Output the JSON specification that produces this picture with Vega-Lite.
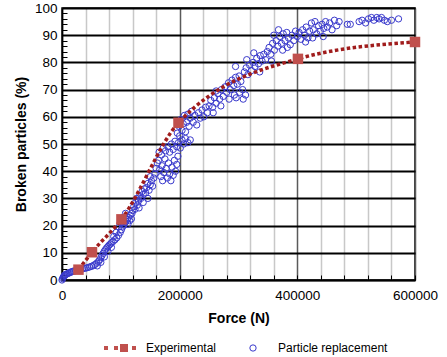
{
  "$schema": "https://vega.github.io/schema/vega-lite/v6.json",
  "width": 353,
  "height": 272,
  "autosize": "none",
  "padding": {"left": 62, "top": 8, "right": 32, "bottom": 77},
  "config": {
    "font": "Liberation Sans",
    "view": {"stroke": "#000", "strokeWidth": 1.5}
  },
  "datasets": {
    "exp": [
      {"force": 28000, "broken": 3.8, "series": "Experimental"},
      {"force": 51000, "broken": 10.2, "series": "Experimental"},
      {"force": 101000, "broken": 22.3, "series": "Experimental"},
      {"force": 198000, "broken": 57.8, "series": "Experimental"},
      {"force": 401000, "broken": 81.3, "series": "Experimental"},
      {"force": 600000, "broken": 87.5, "series": "Experimental"}
    ],
    "sim": [
      {"force":0,"broken":0,"series":"Particle replacement"},
      {"force":1000,"broken":0.5,"series":"Particle replacement"},
      {"force":2000,"broken":1.0,"series":"Particle replacement"},
      {"force":3000,"broken":1.3,"series":"Particle replacement"},
      {"force":4000,"broken":1.6,"series":"Particle replacement"},
      {"force":5000,"broken":1.8,"series":"Particle replacement"},
      {"force":6000,"broken":2.0,"series":"Particle replacement"},
      {"force":8000,"broken":2.2,"series":"Particle replacement"},
      {"force":10000,"broken":2.4,"series":"Particle replacement"},
      {"force":12000,"broken":2.6,"series":"Particle replacement"},
      {"force":14000,"broken":2.8,"series":"Particle replacement"},
      {"force":16000,"broken":3.0,"series":"Particle replacement"},
      {"force":18000,"broken":3.1,"series":"Particle replacement"},
      {"force":20000,"broken":3.3,"series":"Particle replacement"},
      {"force":23000,"broken":3.4,"series":"Particle replacement"},
      {"force":26000,"broken":3.6,"series":"Particle replacement"},
      {"force":29000,"broken":3.8,"series":"Particle replacement"},
      {"force":32000,"broken":4.0,"series":"Particle replacement"},
      {"force":35000,"broken":4.1,"series":"Particle replacement"},
      {"force":38000,"broken":4.3,"series":"Particle replacement"},
      {"force":41000,"broken":4.4,"series":"Particle replacement"},
      {"force":44000,"broken":4.6,"series":"Particle replacement"},
      {"force":47000,"broken":4.8,"series":"Particle replacement"},
      {"force":50000,"broken":5.0,"series":"Particle replacement"},
      {"force":53000,"broken":5.3,"series":"Particle replacement"},
      {"force":56000,"broken":5.7,"series":"Particle replacement"},
      {"force":59000,"broken":6.2,"series":"Particle replacement"},
      {"force":62000,"broken":6.8,"series":"Particle replacement"},
      {"force":64000,"broken":7.4,"series":"Particle replacement"},
      {"force":66000,"broken":8.2,"series":"Particle replacement"},
      {"force":68000,"broken":9.0,"series":"Particle replacement"},
      {"force":70000,"broken":9.8,"series":"Particle replacement"},
      {"force":72000,"broken":10.6,"series":"Particle replacement"},
      {"force":74000,"broken":11.2,"series":"Particle replacement"},
      {"force":76000,"broken":11.8,"series":"Particle replacement"},
      {"force":78000,"broken":12.3,"series":"Particle replacement"},
      {"force":80000,"broken":12.8,"series":"Particle replacement"},
      {"force":82000,"broken":13.2,"series":"Particle replacement"},
      {"force":84000,"broken":13.7,"series":"Particle replacement"},
      {"force":87000,"broken":14.2,"series":"Particle replacement"},
      {"force":90000,"broken":14.8,"series":"Particle replacement"},
      {"force":93000,"broken":15.5,"series":"Particle replacement"},
      {"force":96000,"broken":16.4,"series":"Particle replacement"},
      {"force":99000,"broken":17.5,"series":"Particle replacement"},
      {"force":101000,"broken":18.5,"series":"Particle replacement"},
      {"force":103000,"broken":19.5,"series":"Particle replacement"},
      {"force":105000,"broken":20.2,"series":"Particle replacement"},
      {"force":107000,"broken":21.0,"series":"Particle replacement"},
      {"force":109000,"broken":21.6,"series":"Particle replacement"},
      {"force":111000,"broken":22.3,"series":"Particle replacement"},
      {"force":113000,"broken":23.0,"series":"Particle replacement"},
      {"force":116000,"broken":23.8,"series":"Particle replacement"},
      {"force":119000,"broken":24.5,"series":"Particle replacement"},
      {"force":60000,"broken":5.2,"series":"Particle replacement"},
      {"force":66000,"broken":6.5,"series":"Particle replacement"},
      {"force":72000,"broken":8.5,"series":"Particle replacement"},
      {"force":78000,"broken":10.5,"series":"Particle replacement"},
      {"force":84000,"broken":12.0,"series":"Particle replacement"},
      {"force":88000,"broken":16.0,"series":"Particle replacement"},
      {"force":92000,"broken":17.5,"series":"Particle replacement"},
      {"force":97000,"broken":19.5,"series":"Particle replacement"},
      {"force":100000,"broken":21.0,"series":"Particle replacement"},
      {"force":104000,"broken":23.0,"series":"Particle replacement"},
      {"force":108000,"broken":24.5,"series":"Particle replacement"},
      {"force":112000,"broken":20.5,"series":"Particle replacement"},
      {"force":115000,"broken":21.8,"series":"Particle replacement"},
      {"force":118000,"broken":22.5,"series":"Particle replacement"},
      {"force":120000,"broken":25.5,"series":"Particle replacement"},
      {"force":122000,"broken":27.0,"series":"Particle replacement"},
      {"force":124000,"broken":26.0,"series":"Particle replacement"},
      {"force":125000,"broken":28.5,"series":"Particle replacement"},
      {"force":127000,"broken":30.0,"series":"Particle replacement"},
      {"force":128000,"broken":27.5,"series":"Particle replacement"},
      {"force":130000,"broken":29.0,"series":"Particle replacement"},
      {"force":132000,"broken":31.0,"series":"Particle replacement"},
      {"force":134000,"broken":30.0,"series":"Particle replacement"},
      {"force":136000,"broken":32.5,"series":"Particle replacement"},
      {"force":138000,"broken":31.5,"series":"Particle replacement"},
      {"force":140000,"broken":33.5,"series":"Particle replacement"},
      {"force":142000,"broken":32.0,"series":"Particle replacement"},
      {"force":144000,"broken":34.0,"series":"Particle replacement"},
      {"force":146000,"broken":35.5,"series":"Particle replacement"},
      {"force":148000,"broken":33.0,"series":"Particle replacement"},
      {"force":150000,"broken":35.0,"series":"Particle replacement"},
      {"force":152000,"broken":36.5,"series":"Particle replacement"},
      {"force":154000,"broken":34.5,"series":"Particle replacement"},
      {"force":156000,"broken":37.5,"series":"Particle replacement"},
      {"force":158000,"broken":39.0,"series":"Particle replacement"},
      {"force":160000,"broken":41.0,"series":"Particle replacement"},
      {"force":162000,"broken":43.0,"series":"Particle replacement"},
      {"force":150000,"broken":38.0,"series":"Particle replacement"},
      {"force":146000,"broken":30.0,"series":"Particle replacement"},
      {"force":138000,"broken":28.5,"series":"Particle replacement"},
      {"force":131000,"broken":26.5,"series":"Particle replacement"},
      {"force":164000,"broken":44.0,"series":"Particle replacement"},
      {"force":166000,"broken":40.5,"series":"Particle replacement"},
      {"force":168000,"broken":38.0,"series":"Particle replacement"},
      {"force":170000,"broken":42.0,"series":"Particle replacement"},
      {"force":171000,"broken":36.5,"series":"Particle replacement"},
      {"force":173000,"broken":39.5,"series":"Particle replacement"},
      {"force":175000,"broken":44.5,"series":"Particle replacement"},
      {"force":177000,"broken":41.0,"series":"Particle replacement"},
      {"force":179000,"broken":37.5,"series":"Particle replacement"},
      {"force":181000,"broken":43.0,"series":"Particle replacement"},
      {"force":183000,"broken":39.0,"series":"Particle replacement"},
      {"force":185000,"broken":36.5,"series":"Particle replacement"},
      {"force":187000,"broken":41.5,"series":"Particle replacement"},
      {"force":189000,"broken":38.5,"series":"Particle replacement"},
      {"force":191000,"broken":44.0,"series":"Particle replacement"},
      {"force":193000,"broken":40.0,"series":"Particle replacement"},
      {"force":195000,"broken":42.5,"series":"Particle replacement"},
      {"force":197000,"broken":45.5,"series":"Particle replacement"},
      {"force":165000,"broken":47.0,"series":"Particle replacement"},
      {"force":169000,"broken":46.0,"series":"Particle replacement"},
      {"force":172000,"broken":48.5,"series":"Particle replacement"},
      {"force":176000,"broken":47.5,"series":"Particle replacement"},
      {"force":180000,"broken":49.0,"series":"Particle replacement"},
      {"force":183000,"broken":47.0,"series":"Particle replacement"},
      {"force":186000,"broken":50.0,"series":"Particle replacement"},
      {"force":189000,"broken":48.0,"series":"Particle replacement"},
      {"force":192000,"broken":51.0,"series":"Particle replacement"},
      {"force":195000,"broken":49.0,"series":"Particle replacement"},
      {"force":198000,"broken":50.5,"series":"Particle replacement"},
      {"force":201000,"broken":48.5,"series":"Particle replacement"},
      {"force":204000,"broken":51.5,"series":"Particle replacement"},
      {"force":207000,"broken":50.0,"series":"Particle replacement"},
      {"force":210000,"broken":52.0,"series":"Particle replacement"},
      {"force":214000,"broken":50.5,"series":"Particle replacement"},
      {"force":218000,"broken":51.5,"series":"Particle replacement"},
      {"force":196000,"broken":54.0,"series":"Particle replacement"},
      {"force":199000,"broken":56.5,"series":"Particle replacement"},
      {"force":200000,"broken":53.0,"series":"Particle replacement"},
      {"force":202000,"broken":59.0,"series":"Particle replacement"},
      {"force":204000,"broken":55.0,"series":"Particle replacement"},
      {"force":206000,"broken":57.5,"series":"Particle replacement"},
      {"force":208000,"broken":60.5,"series":"Particle replacement"},
      {"force":210000,"broken":54.5,"series":"Particle replacement"},
      {"force":212000,"broken":58.0,"series":"Particle replacement"},
      {"force":214000,"broken":61.0,"series":"Particle replacement"},
      {"force":216000,"broken":56.5,"series":"Particle replacement"},
      {"force":218000,"broken":59.5,"series":"Particle replacement"},
      {"force":220000,"broken":62.0,"series":"Particle replacement"},
      {"force":223000,"broken":58.0,"series":"Particle replacement"},
      {"force":226000,"broken":60.5,"series":"Particle replacement"},
      {"force":229000,"broken":57.0,"series":"Particle replacement"},
      {"force":232000,"broken":61.5,"series":"Particle replacement"},
      {"force":235000,"broken":59.5,"series":"Particle replacement"},
      {"force":238000,"broken":62.5,"series":"Particle replacement"},
      {"force":241000,"broken":60.0,"series":"Particle replacement"},
      {"force":244000,"broken":63.5,"series":"Particle replacement"},
      {"force":247000,"broken":61.5,"series":"Particle replacement"},
      {"force":250000,"broken":64.0,"series":"Particle replacement"},
      {"force":253000,"broken":66.0,"series":"Particle replacement"},
      {"force":256000,"broken":63.5,"series":"Particle replacement"},
      {"force":259000,"broken":67.0,"series":"Particle replacement"},
      {"force":262000,"broken":65.0,"series":"Particle replacement"},
      {"force":265000,"broken":68.5,"series":"Particle replacement"},
      {"force":268000,"broken":66.5,"series":"Particle replacement"},
      {"force":271000,"broken":70.0,"series":"Particle replacement"},
      {"force":274000,"broken":67.5,"series":"Particle replacement"},
      {"force":277000,"broken":71.0,"series":"Particle replacement"},
      {"force":280000,"broken":69.0,"series":"Particle replacement"},
      {"force":283000,"broken":72.5,"series":"Particle replacement"},
      {"force":286000,"broken":70.0,"series":"Particle replacement"},
      {"force":289000,"broken":73.5,"series":"Particle replacement"},
      {"force":292000,"broken":71.5,"series":"Particle replacement"},
      {"force":295000,"broken":74.5,"series":"Particle replacement"},
      {"force":298000,"broken":72.0,"series":"Particle replacement"},
      {"force":301000,"broken":75.0,"series":"Particle replacement"},
      {"force":304000,"broken":73.0,"series":"Particle replacement"},
      {"force":307000,"broken":70.0,"series":"Particle replacement"},
      {"force":293000,"broken":68.0,"series":"Particle replacement"},
      {"force":284000,"broken":66.5,"series":"Particle replacement"},
      {"force":262000,"broken":69.5,"series":"Particle replacement"},
      {"force":257000,"broken":61.5,"series":"Particle replacement"},
      {"force":270000,"broken":64.0,"series":"Particle replacement"},
      {"force":296000,"broken":67.0,"series":"Particle replacement"},
      {"force":302000,"broken":69.0,"series":"Particle replacement"},
      {"force":308000,"broken":66.5,"series":"Particle replacement"},
      {"force":312000,"broken":68.0,"series":"Particle replacement"},
      {"force":310000,"broken":76.5,"series":"Particle replacement"},
      {"force":313000,"broken":78.0,"series":"Particle replacement"},
      {"force":316000,"broken":75.5,"series":"Particle replacement"},
      {"force":319000,"broken":79.0,"series":"Particle replacement"},
      {"force":322000,"broken":77.0,"series":"Particle replacement"},
      {"force":325000,"broken":80.0,"series":"Particle replacement"},
      {"force":328000,"broken":78.5,"series":"Particle replacement"},
      {"force":331000,"broken":81.5,"series":"Particle replacement"},
      {"force":334000,"broken":79.5,"series":"Particle replacement"},
      {"force":337000,"broken":82.5,"series":"Particle replacement"},
      {"force":340000,"broken":80.5,"series":"Particle replacement"},
      {"force":343000,"broken":83.0,"series":"Particle replacement"},
      {"force":346000,"broken":81.0,"series":"Particle replacement"},
      {"force":349000,"broken":84.0,"series":"Particle replacement"},
      {"force":314000,"broken":81.0,"series":"Particle replacement"},
      {"force":326000,"broken":83.5,"series":"Particle replacement"},
      {"force":336000,"broken":76.5,"series":"Particle replacement"},
      {"force":295000,"broken":78.5,"series":"Particle replacement"},
      {"force":352000,"broken":85.5,"series":"Particle replacement"},
      {"force":355000,"broken":83.0,"series":"Particle replacement"},
      {"force":358000,"broken":87.0,"series":"Particle replacement"},
      {"force":361000,"broken":84.5,"series":"Particle replacement"},
      {"force":364000,"broken":88.0,"series":"Particle replacement"},
      {"force":367000,"broken":86.0,"series":"Particle replacement"},
      {"force":370000,"broken":89.5,"series":"Particle replacement"},
      {"force":373000,"broken":87.0,"series":"Particle replacement"},
      {"force":376000,"broken":90.5,"series":"Particle replacement"},
      {"force":379000,"broken":88.0,"series":"Particle replacement"},
      {"force":382000,"broken":91.0,"series":"Particle replacement"},
      {"force":385000,"broken":89.0,"series":"Particle replacement"},
      {"force":388000,"broken":86.5,"series":"Particle replacement"},
      {"force":391000,"broken":90.0,"series":"Particle replacement"},
      {"force":394000,"broken":88.0,"series":"Particle replacement"},
      {"force":397000,"broken":91.5,"series":"Particle replacement"},
      {"force":400000,"broken":89.5,"series":"Particle replacement"},
      {"force":360000,"broken":90.0,"series":"Particle replacement"},
      {"force":368000,"broken":92.0,"series":"Particle replacement"},
      {"force":375000,"broken":84.5,"series":"Particle replacement"},
      {"force":383000,"broken":85.5,"series":"Particle replacement"},
      {"force":356000,"broken":80.5,"series":"Particle replacement"},
      {"force":403000,"broken":91.0,"series":"Particle replacement"},
      {"force":406000,"broken":88.5,"series":"Particle replacement"},
      {"force":409000,"broken":92.0,"series":"Particle replacement"},
      {"force":412000,"broken":90.0,"series":"Particle replacement"},
      {"force":415000,"broken":93.0,"series":"Particle replacement"},
      {"force":418000,"broken":89.0,"series":"Particle replacement"},
      {"force":421000,"broken":91.5,"series":"Particle replacement"},
      {"force":424000,"broken":94.5,"series":"Particle replacement"},
      {"force":427000,"broken":92.0,"series":"Particle replacement"},
      {"force":430000,"broken":95.0,"series":"Particle replacement"},
      {"force":433000,"broken":90.5,"series":"Particle replacement"},
      {"force":436000,"broken":93.5,"series":"Particle replacement"},
      {"force":439000,"broken":91.5,"series":"Particle replacement"},
      {"force":442000,"broken":94.0,"series":"Particle replacement"},
      {"force":445000,"broken":92.5,"series":"Particle replacement"},
      {"force":448000,"broken":95.0,"series":"Particle replacement"},
      {"force":451000,"broken":93.0,"series":"Particle replacement"},
      {"force":455000,"broken":94.5,"series":"Particle replacement"},
      {"force":459000,"broken":92.0,"series":"Particle replacement"},
      {"force":463000,"broken":95.5,"series":"Particle replacement"},
      {"force":467000,"broken":93.5,"series":"Particle replacement"},
      {"force":471000,"broken":95.0,"series":"Particle replacement"},
      {"force":414000,"broken":87.5,"series":"Particle replacement"},
      {"force":426000,"broken":89.0,"series":"Particle replacement"},
      {"force":444000,"broken":89.5,"series":"Particle replacement"},
      {"force":485000,"broken":94.0,"series":"Particle replacement"},
      {"force":490000,"broken":94.0,"series":"Particle replacement"},
      {"force":505000,"broken":95.0,"series":"Particle replacement"},
      {"force":510000,"broken":95.5,"series":"Particle replacement"},
      {"force":516000,"broken":94.5,"series":"Particle replacement"},
      {"force":521000,"broken":96.0,"series":"Particle replacement"},
      {"force":526000,"broken":96.5,"series":"Particle replacement"},
      {"force":530000,"broken":95.5,"series":"Particle replacement"},
      {"force":535000,"broken":96.5,"series":"Particle replacement"},
      {"force":539000,"broken":96.0,"series":"Particle replacement"},
      {"force":543000,"broken":96.5,"series":"Particle replacement"},
      {"force":548000,"broken":95.5,"series":"Particle replacement"},
      {"force":553000,"broken":95.0,"series":"Particle replacement"},
      {"force":560000,"broken":95.5,"series":"Particle replacement"},
      {"force":572000,"broken":96.0,"series":"Particle replacement"}
    ]
  },
  "encoding": {
    "x": {
      "field": "force", "type": "quantitative",
      "scale": {"domain": [0, 600000], "nice": false},
      "axis": {
        "title": "Force (N)",
        "values": [0,40000,80000,120000,160000,200000,240000,280000,320000,360000,400000,440000,480000,520000,560000,600000],
        "format": "d",
        "labelExpr": "datum.value % 200000 === 0 ? datum.label : ''",
        "grid": true,
        "gridColor": {"condition": {"test": "datum.value % 200000 === 0", "value": "#5a5a5a"}, "value": "#c8c8c8"},
        "gridWidth": 1.5,
        "tickSize": -5,
        "tickColor": "#000",
        "domainColor": "#000",
        "domainWidth": 1.5,
        "labelFontSize": 13.5,
        "labelColor": "#000",
        "labelPadding": 13,
        "labelFlush": false,
        "labelOverlap": false,
        "titleFontSize": 14,
        "titleFontWeight": "bold",
        "titleColor": "#000",
        "titlePadding": 10
      }
    },
    "y": {
      "field": "broken", "type": "quantitative",
      "scale": {"domain": [0, 100], "nice": false},
      "axis": {
        "title": "Broken particles (%)",
        "values": [0,2,4,6,8,10,12,14,16,18,20,22,24,26,28,30,32,34,36,38,40,42,44,46,48,50,52,54,56,58,60,62,64,66,68,70,72,74,76,78,80,82,84,86,88,90,92,94,96,98,100],
        "labelExpr": "datum.value % 10 === 0 ? datum.label : ''",
        "grid": true,
        "gridColor": {"condition": {"test": "datum.value % 10 === 0", "value": "#000"}, "value": "rgba(0,0,0,0)"},
        "gridWidth": 2,
        "tickSize": -5,
        "tickColor": "#000",
        "domainColor": "#000",
        "domainWidth": 1.5,
        "labelFontSize": 13.5,
        "labelColor": "#000",
        "labelPadding": 10,
        "labelFlush": false,
        "labelOverlap": false,
        "titleFontSize": 14,
        "titleFontWeight": "bold",
        "titleColor": "#000",
        "titlePadding": 6
      }
    }
  },
  "layer": [
    {
      "data": {"name": "sim"},
      "mark": {"type": "point", "shape": "circle", "filled": false, "size": 40, "strokeWidth": 1, "opacity": 1},
      "encoding": {
        "stroke": {
          "field": "series", "type": "nominal",
          "scale": {"domain": ["Particle replacement"], "range": ["#3a3acc"]},
          "legend": {
            "orient": "none", "legendX": 185, "legendY": 334, "direction": "horizontal", "title": null,
            "padding": 0, "labelFontSize": 12, "labelColor": "#000", "symbolSize": 40, "labelOffset": 19,
            "symbolType": "circle", "symbolFillColor": "transparent", "symbolStrokeWidth": 1, "symbolOpacity": 1
          }
        }
      }
    },
    {
      "data": {"name": "exp"},
      "mark": {"type": "line", "color": "#a01c1c", "strokeWidth": 3.5, "strokeDash": [3.5, 2.5], "interpolate": "monotone"},
      "encoding": {}
    },
    {
      "data": {"name": "exp"},
      "mark": {"type": "point", "shape": "square", "filled": true, "size": 110, "opacity": 1},
      "encoding": {
        "fill": {
          "field": "series", "type": "nominal",
          "scale": {"domain": ["Experimental"], "range": ["#c0504d"]},
          "legend": {
            "orient": "none", "legendX": 56, "legendY": 334, "direction": "horizontal", "title": null,
            "padding": 0, "labelFontSize": 12, "labelColor": "#000", "symbolSize": 64, "labelOffset": 16,
            "symbolType": "M-5,-0.5h1v1h-1z M-2.5,-0.5h1v1h-1z M-1,-1h2v2h-2z M2,-0.5h1v1h-1z",
            "symbolOpacity": 1, "symbolStrokeWidth": 0
          }
        }
      }
    }
  ]
}
